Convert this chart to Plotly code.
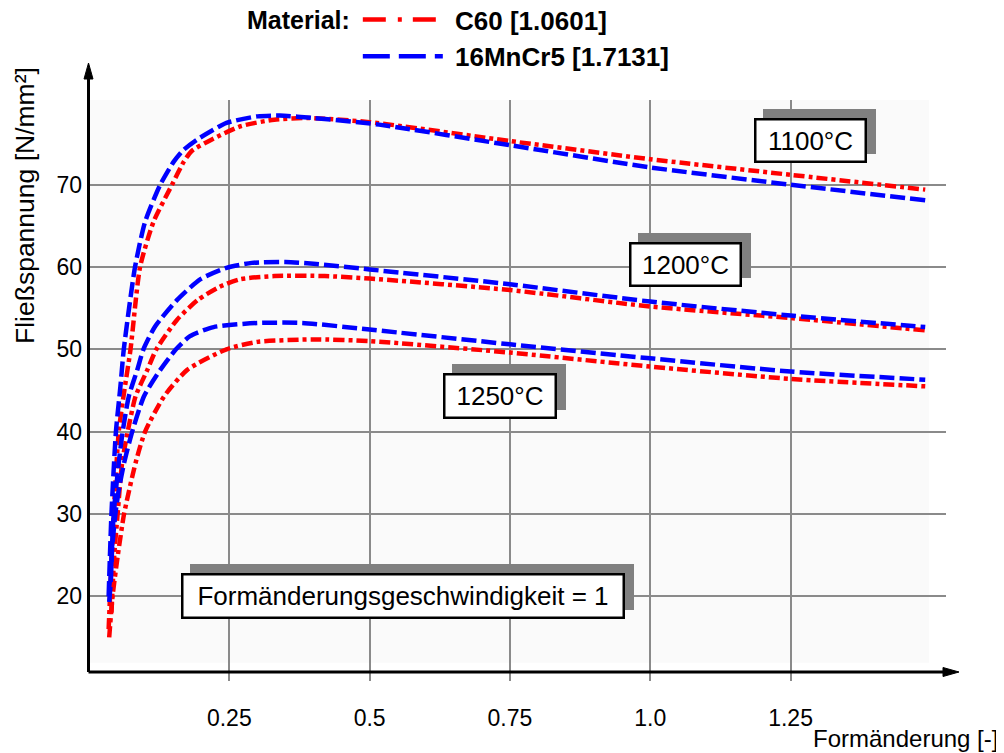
import plotly.graph_objects as go

# ---------------- data ----------------
eps_c60_1100 = [0.035, 0.040, 0.044, 0.053, 0.063, 0.074, 0.091, 0.115, 0.148, 0.169, 0.183, 0.219, 0.27, 0.33, 0.39, 0.5, 0.75, 1.0, 1.25, 1.49]
sig_c60_1100 = [16.0, 24.0, 30.0, 40.0, 45.0, 50.0, 60.0, 65.5, 70.0, 72.8, 74.1, 75.5, 77.1, 77.9, 78.1, 77.6, 75.3, 73.1, 71.2, 69.4]

eps_mncr_1100 = [0.035, 0.040, 0.048, 0.056, 0.062, 0.082, 0.100, 0.127, 0.151, 0.168, 0.193, 0.245, 0.30, 0.34, 0.40, 0.517, 0.75, 1.0, 1.25, 1.49]
sig_mncr_1100 = [20.0, 30.0, 40.0, 45.5, 50.0, 60.0, 65.5, 70.0, 72.8, 74.2, 75.5, 77.5, 78.3, 78.4, 78.1, 77.3, 74.8, 72.1, 70.0, 68.1]

eps_c60_1200 = [0.040, 0.045, 0.051, 0.059, 0.069, 0.083, 0.104, 0.120, 0.157, 0.194, 0.233, 0.269, 0.33, 0.42, 0.5, 0.75, 1.0, 1.25, 1.49]
sig_c60_1200 = [18.0, 25.0, 30.0, 36.2, 40.0, 44.3, 47.5, 50.0, 53.6, 56.0, 57.6, 58.5, 58.9, 58.9, 58.6, 57.2, 55.2, 53.8, 52.3]

eps_mncr_1200 = [0.038, 0.044, 0.053, 0.060, 0.071, 0.086, 0.097, 0.118, 0.157, 0.198, 0.245, 0.29, 0.35, 0.40, 0.5, 0.75, 1.0, 1.25, 1.49]
sig_mncr_1200 = [21.0, 30.0, 36.2, 40.0, 44.3, 47.5, 50.0, 52.8, 56.0, 58.5, 59.9, 60.5, 60.6, 60.4, 59.7, 57.9, 55.8, 54.1, 52.7]

eps_c60_1250 = [0.036, 0.042, 0.051, 0.0625, 0.083, 0.100, 0.134, 0.175, 0.245, 0.30, 0.40, 0.5, 0.75, 1.0, 1.25, 1.49]
sig_c60_1250 = [15.0, 20.0, 24.8, 30.0, 36.2, 40.0, 44.3, 47.5, 50.0, 50.9, 51.2, 51.0, 49.6, 47.9, 46.4, 45.5]

eps_mncr_1250 = [0.036, 0.039, 0.041, 0.047, 0.053, 0.0626, 0.077, 0.098, 0.127, 0.155, 0.180, 0.222, 0.30, 0.38, 0.5, 0.75, 1.0, 1.25, 1.49]
sig_mncr_1250 = [19.3, 22.0, 25.6, 30.0, 32.9, 36.2, 40.0, 44.3, 47.5, 50.0, 51.6, 52.7, 53.2, 53.2, 52.4, 50.6, 48.9, 47.3, 46.3]

x_tickvals = [0.25, 0.5, 0.75, 1.0, 1.25]
x_ticktext = ["0.25", "0.5", "0.75", "1.0", "1.25"]
y_tickvals = [20, 30, 40, 50, 60, 70]

materials = ["C60 [1.0601]", "16MnCr5 [1.7131]"]
temp_labels = ["1100°C", "1200°C", "1250°C"]
rate_label = "Formänderungsgeschwindigkeit = 1"

# ---------------- styling ----------------
FONT = "Arial, 'Liberation Sans', sans-serif"
RED = "#ff0000"
BLUE = "#0000ff"
GRID = "#8a8a8a"
SHADOW = "#808080"

# the page body adds an 8px offset; the figure is sized so its plot area lands
# at the reference pixel positions (plot area 89..946 x 100..672 in page pixels)
OFF = 8
FIG_W, FIG_H = 1004 - OFF, 753 - OFF
L, R, T, B = 89 - OFF, 58, 100 - OFF, 81
W = FIG_W - L - R
H = FIG_H - T - B
X_RANGE = [0, 1.527]
Y_RANGE = [10.79, 80.29]


def px2paper(px, py):
    """page pixel -> paper coordinates"""
    return (px - OFF - L) / W, (FIG_H - B - (py - OFF)) / H


fig = go.Figure()

curves = [
    (eps_c60_1100, sig_c60_1100, RED, "11px,4px,4px,4px"),
    (eps_mncr_1100, sig_mncr_1100, BLUE, "15px,5px"),
    (eps_c60_1200, sig_c60_1200, RED, "11px,4px,4px,4px"),
    (eps_mncr_1200, sig_mncr_1200, BLUE, "15px,5px"),
    (eps_c60_1250, sig_c60_1250, RED, "11px,4px,4px,4px"),
    (eps_mncr_1250, sig_mncr_1250, BLUE, "15px,5px"),
]
for xs, ys, col, dash in curves:
    fig.add_trace(go.Scatter(x=xs, y=ys, mode="lines", showlegend=False, hoverinfo="skip",
                             line=dict(color=col, width=4.5, dash=dash, shape="spline", smoothing=0.6)))

# legend-only samples
NB = "\u00a0"
fig.add_trace(go.Scatter(x=[None], y=[None], mode="lines", name=NB + materials[0],
                         line=dict(color=RED, width=4.5, dash="23px,12px,4px,11px")))
fig.add_trace(go.Scatter(x=[None], y=[None], mode="lines", name=NB + materials[1],
                         line=dict(color=BLUE, width=4.5, dash="27px,9px")))

shapes = []
# faint plot background
shapes.append(dict(type="rect", xref="x", yref="y", x0=0, x1=1.497, y0=11.9, y1=Y_RANGE[1],
                   fillcolor="#fafafa", line=dict(width=0), layer="below"))
# axes with arrows
x0p, y0p = px2paper(88.5, 672)
x1p, _ = px2paper(959, 672)
_, ytop = px2paper(88.5, 63)
shapes.append(dict(type="line", xref="paper", yref="paper", x0=x0p, y0=y0p, x1=px2paper(946, 672)[0], y1=y0p,
                   line=dict(color="black", width=3)))
shapes.append(dict(type="line", xref="paper", yref="paper", x0=x0p, y0=y0p, x1=x0p, y1=px2paper(0, 77)[1],
                   line=dict(color="black", width=3)))
ax_, ay_ = px2paper(943, 667.5)
bx_, by_ = px2paper(943, 676.5)
shapes.append(dict(type="path", xref="paper", yref="paper",
                   path=f"M{ax_},{ay_} L{x1p},{y0p} L{bx_},{by_} Z", fillcolor="black", line=dict(color="black", width=1)))
cx_, cy_ = px2paper(84, 79)
dx_, dy_ = px2paper(93, 79)
shapes.append(dict(type="path", xref="paper", yref="paper",
                   path=f"M{cx_},{cy_} L{x0p},{ytop} L{dx_},{dy_} Z", fillcolor="black", line=dict(color="black", width=1)))

annotations = []


def boxed(text, x, y, w, h):
    # grey drop shadow (no text), then the white framed label on top
    annotations.append(dict(x=x, y=y, xref="x", yref="y", text=NB, showarrow=False,
                            xshift=9, yshift=9, width=w, height=h,
                            font=dict(family=FONT, size=26, color=SHADOW),
                            bgcolor=SHADOW, bordercolor=SHADOW, borderwidth=2.5, borderpad=0))
    annotations.append(dict(x=x, y=y, xref="x", yref="y", text=text, showarrow=False,
                            width=w, height=h,
                            font=dict(family=FONT, size=26, color="black"),
                            bgcolor="white", bordercolor="black", borderwidth=2.5, borderpad=0))


boxed(temp_labels[0], 1.286, 75.37, 108, 40)
boxed(temp_labels[1], 1.0634, 60.30, 108, 40)
boxed(temp_labels[2], 0.7324, 44.33, 109, 41)
boxed(rate_label, 0.56, 19.99, 439, 41)

tx, ty = px2paper(25, 206)
annotations.append(dict(x=tx, y=ty, xref="paper", yref="paper", text="Fließspannung [N/mm²]",
                        textangle=-90, showarrow=False, xanchor="center", yanchor="middle",
                        font=dict(family=FONT, size=26.5, color="black")))
tx, ty = px2paper(1000, 738)
annotations.append(dict(x=tx, y=ty, xref="paper", yref="paper", text="Formänderung [-]",
                        showarrow=False, xanchor="right", yanchor="middle",
                        font=dict(family=FONT, size=24, color="black")))

lx, ly = px2paper(245, -4)
fig.update_layout(
    width=FIG_W, height=FIG_H,
    margin=dict(l=L, r=R, t=T, b=B, pad=0, autoexpand=False),
    paper_bgcolor="white", plot_bgcolor="white",
    font=dict(family=FONT, color="black"),
    xaxis=dict(range=X_RANGE, tickvals=x_tickvals, ticktext=x_ticktext, showgrid=True, automargin=False,
               gridcolor=GRID, gridwidth=1.5, zeroline=False, showline=False,
               ticks="outside", ticklen=8, tickwidth=1.5, tickcolor=GRID,
               ticklabelstandoff=17, tickfont=dict(family=FONT, size=23, color="black")),
    yaxis=dict(range=Y_RANGE, tickvals=y_tickvals, showgrid=True, automargin=False,
               gridcolor=GRID, gridwidth=1.5, zeroline=False, showline=False,
               ticks="", ticklabelstandoff=6, tickfont=dict(family=FONT, size=23, color="black")),
    legend=dict(x=lx, y=ly, xanchor="left", yanchor="top", orientation="v",
                bgcolor="rgba(0,0,0,0)", borderwidth=0, itemwidth=80,
                title=dict(text="Material:", side="left", font=dict(family=FONT, size=25, weight="bold")),
                font=dict(family=FONT, size=26, color="black", weight="bold")),
    shapes=shapes, annotations=annotations,
)

fig.write_html("out.html")
